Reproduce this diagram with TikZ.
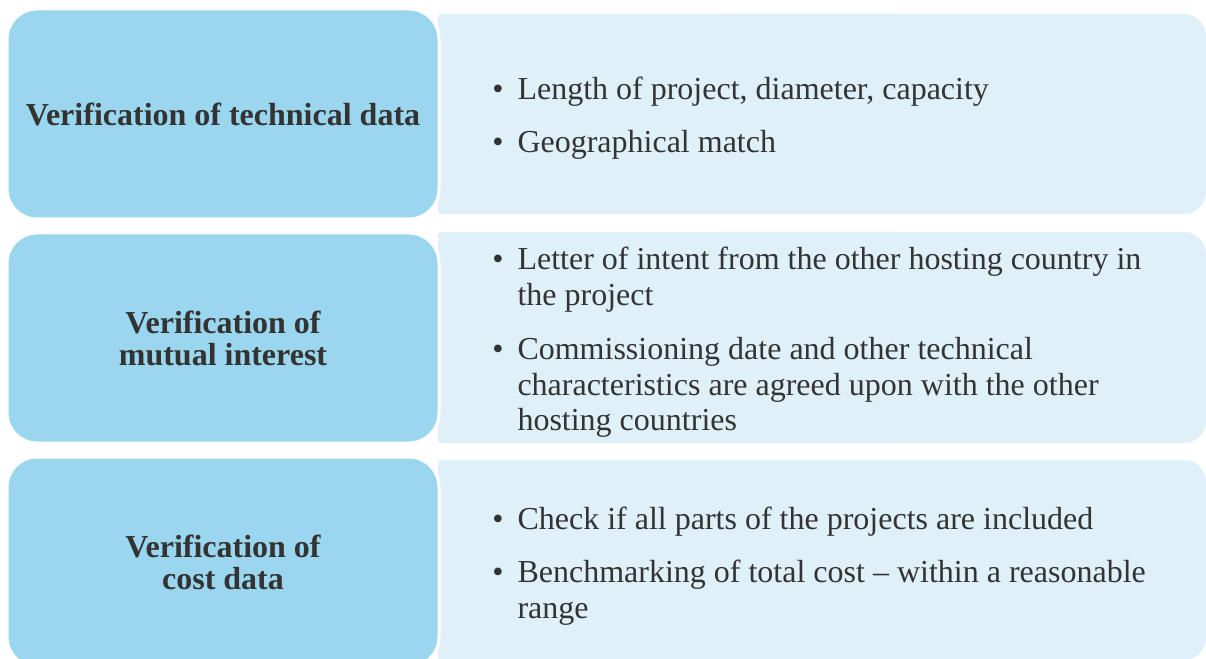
\documentclass[tikz,border=0pt]{standalone}
\usepackage{fontspec}
\setmainfont{Liberation Serif}
\usepackage{enumitem}
\setlist[itemize]{label=\textbullet, leftmargin=27.75pt, labelsep=10.5pt, itemsep=12.75pt, parsep=0pt, topsep=0pt, partopsep=0pt}

\definecolor{headfill}{RGB}{155,214,239}
\definecolor{listfill}{RGB}{223,240,249}
\definecolor{textgray}{RGB}{51,51,51}

\tikzset{every picture/.style={line width=0.75pt},
  headbox/.style={rectangle, rounded corners=22.5pt, fill=headfill, draw=white, line width=2.25pt,
    minimum width=324pt, minimum height=157.5pt, align=center, text=textgray,
    font=\fontsize{24pt}{24pt}\selectfont\bfseries},
  itemlist/.style={anchor=base west, inner sep=0pt, text width=560pt, align=flush left, text=textgray,
    font=\fontsize{24pt}{27pt}\selectfont}}

\begin{document}
\begin{tikzpicture}[x=0.75pt,y=0.75pt,yscale=-1,xscale=1]
    %set diagram to 1206 x 659
    \clip (0,0) rectangle (1206,659);

    %Light panels behind the lists: small corners on the left, large on the right
    \foreach \ytop/\ybot in {14/214, 232/443, 460/660} {
        \fill[listfill, rounded corners=2.25pt] (438,\ytop) rectangle (900,\ybot);
        \fill[listfill, rounded corners=16.5pt] (700,\ytop) rectangle (1206,\ybot);
    }

    % Heading boxes
    \node[headbox] (tech-head) at (223,114) {Verification of technical data};
    \node[headbox] (mutual-head) at (223,338) {Verification of\\mutual interest};
    \node[headbox] (cost-head) at (223,562) {Verification of\\cost data};

    % Bullet lists (the base anchor sits one line above the first item)
    \node[itemlist] (tech-list) at (480,64) {\begin{itemize}
        \item Length of project, diameter, capacity
        \item Geographical match
    \end{itemize}};
    \node[itemlist] (mutual-list) at (480,234) {\begin{itemize}
        \item Letter of intent from the other hosting country in\\the project
        \item Commissioning date and other technical\\characteristics are agreed upon with the other\\hosting countries
    \end{itemize}};
    \node[itemlist] (cost-list) at (480,493) {\begin{itemize}
        \item Check if all parts of the projects are included
        \item Benchmarking of total cost -- within a reasonable\\range
    \end{itemize}};

\end{tikzpicture}
\end{document}
